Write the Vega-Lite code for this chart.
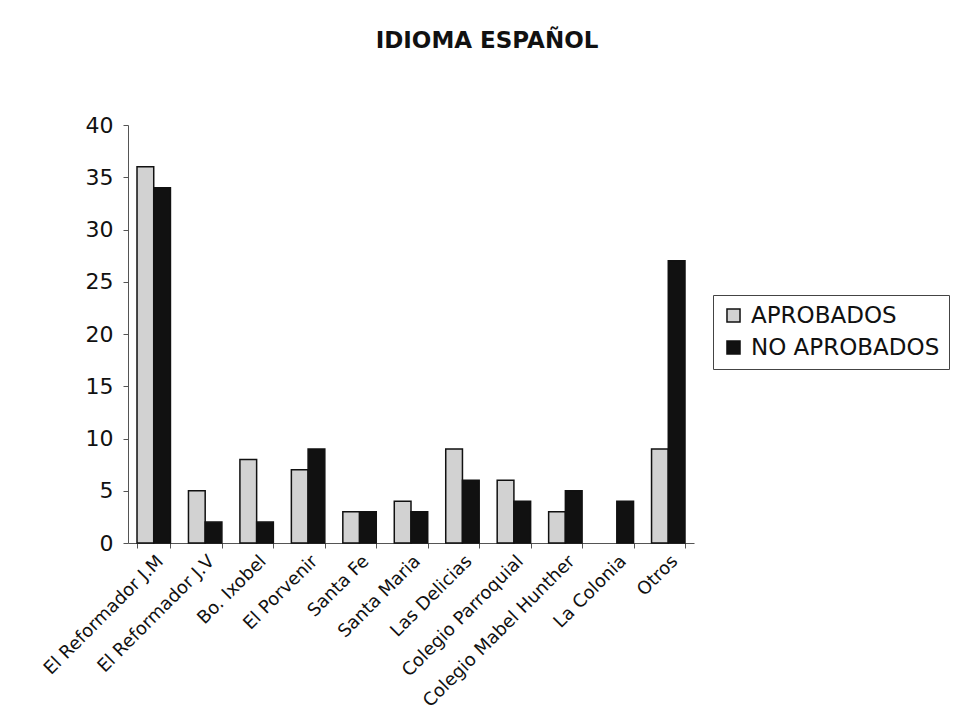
{
  "$schema": "https://vega.github.io/schema/vega-lite/v6.json",
  "autosize": "none",
  "width": 566,
  "height": 418,
  "padding": {"left": 128, "top": 125, "right": 263, "bottom": 180},
  "background": "white",
  "title": {
    "text": "IDIOMA ESPAÑOL",
    "font": "DejaVu Sans",
    "fontSize": 23,
    "fontWeight": "bold",
    "color": "#111",
    "anchor": "middle",
    "offset": 61,
    "dx": 76
  },
  "data": {
    "values": [
      {"escuela": "El Reformador J.M", "grupo": "APROBADOS", "valor": 36},
      {"escuela": "El Reformador J.M", "grupo": "NO APROBADOS", "valor": 34},
      {"escuela": "El Reformador J.V", "grupo": "APROBADOS", "valor": 5},
      {"escuela": "El Reformador J.V", "grupo": "NO APROBADOS", "valor": 2},
      {"escuela": "Bo. Ixobel", "grupo": "APROBADOS", "valor": 8},
      {"escuela": "Bo. Ixobel", "grupo": "NO APROBADOS", "valor": 2},
      {"escuela": "El Porvenir", "grupo": "APROBADOS", "valor": 7},
      {"escuela": "El Porvenir", "grupo": "NO APROBADOS", "valor": 9},
      {"escuela": "Santa Fe", "grupo": "APROBADOS", "valor": 3},
      {"escuela": "Santa Fe", "grupo": "NO APROBADOS", "valor": 3},
      {"escuela": "Santa Maria", "grupo": "APROBADOS", "valor": 4},
      {"escuela": "Santa Maria", "grupo": "NO APROBADOS", "valor": 3},
      {"escuela": "Las Delicias", "grupo": "APROBADOS", "valor": 9},
      {"escuela": "Las Delicias", "grupo": "NO APROBADOS", "valor": 6},
      {"escuela": "Colegio Parroquial", "grupo": "APROBADOS", "valor": 6},
      {"escuela": "Colegio Parroquial", "grupo": "NO APROBADOS", "valor": 4},
      {"escuela": "Colegio Mabel Hunther", "grupo": "APROBADOS", "valor": 3},
      {"escuela": "Colegio Mabel Hunther", "grupo": "NO APROBADOS", "valor": 5},
      {"escuela": "La Colonia", "grupo": "APROBADOS", "valor": 0},
      {"escuela": "La Colonia", "grupo": "NO APROBADOS", "valor": 4},
      {"escuela": "Otros", "grupo": "APROBADOS", "valor": 9},
      {"escuela": "Otros", "grupo": "NO APROBADOS", "valor": 27}
    ]
  },
  "mark": {"type": "bar", "stroke": "#111", "strokeWidth": 1.5},
  "encoding": {
    "x": {
      "field": "escuela",
      "type": "nominal",
      "sort": null,
      "title": null,
      "scale": {"paddingInner": 0.35, "paddingOuter": 0.175},
      "axis": {
        "labelAngle": -45,
        "labelFont": "DejaVu Sans",
        "labelFontSize": 18,
        "labelColor": "#111",
        "labelPadding": 4,
        "labelLimit": 400,
        "tickBand": "extent",
        "tickSize": 5,
        "tickColor": "#555",
        "domainColor": "#555",
        "labelOverlap": false
      }
    },
    "xOffset": {
      "field": "grupo",
      "type": "nominal",
      "scale": {"paddingInner": 0, "paddingOuter": 0}
    },
    "y": {
      "field": "valor",
      "type": "quantitative",
      "title": null,
      "scale": {"domain": [0, 40], "nice": false},
      "axis": {
        "values": [0, 5, 10, 15, 20, 25, 30, 35, 40],
        "grid": false,
        "labelFont": "DejaVu Sans",
        "labelFontSize": 22,
        "labelColor": "#111",
        "labelPadding": 10,
        "tickSize": 5,
        "tickColor": "#555",
        "domainColor": "#555"
      }
    },
    "fill": {
      "field": "grupo",
      "type": "nominal",
      "title": null,
      "scale": {"domain": ["APROBADOS", "NO APROBADOS"], "range": ["#d2d2d2", "#111111"]},
      "legend": {
        "orient": "none",
        "legendX": 585,
        "legendY": 170,
        "symbolType": "square",
        "symbolSize": 170,
        "symbolStrokeColor": "#111",
        "symbolStrokeWidth": 1.5,
        "labelFont": "DejaVu Sans",
        "labelFontSize": 23,
        "labelColor": "#111",
        "labelOffset": 6,
        "labelLimit": 400,
        "rowPadding": 8,
        "padding": 9,
        "strokeColor": "#444",
        "fillColor": "white"
      }
    },
    "strokeOpacity": {
      "condition": {"test": "datum.valor == 0", "value": 0},
      "value": 1
    }
  },
  "config": {"view": {"stroke": null}}
}
